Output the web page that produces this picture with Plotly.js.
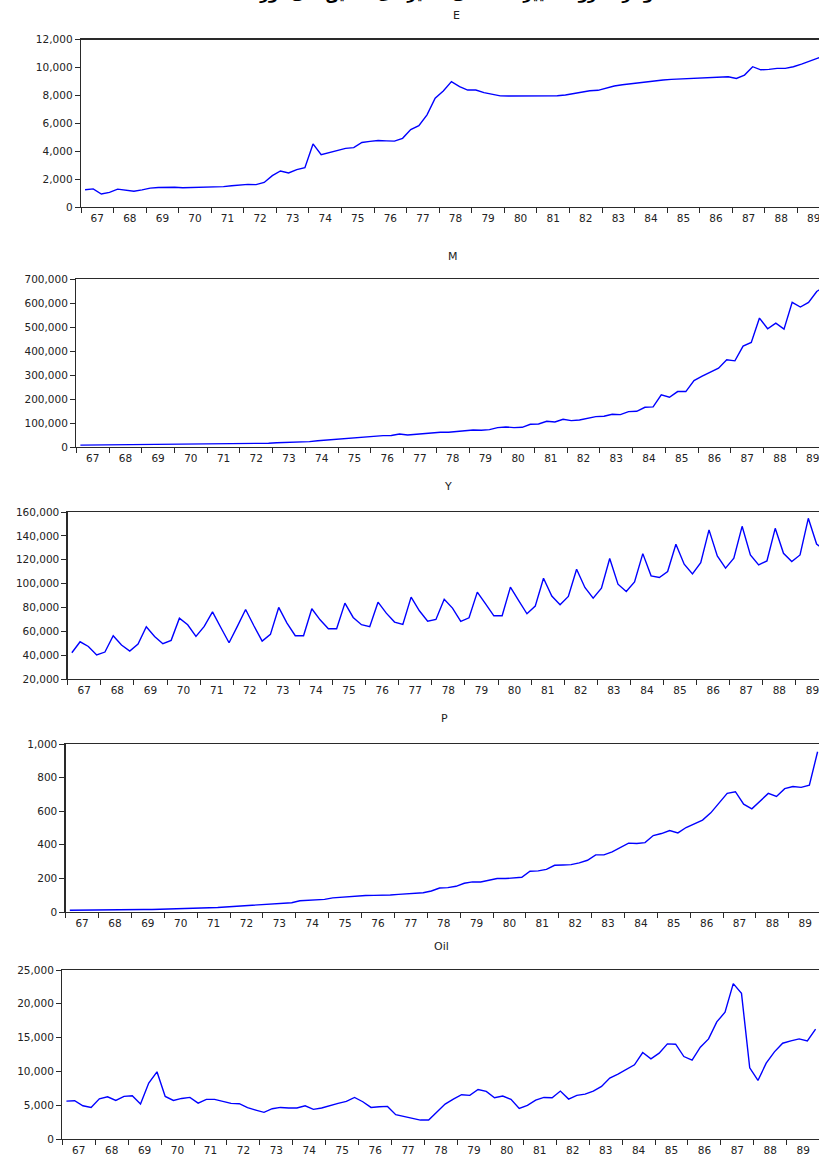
<!DOCTYPE html>
<html>
<head>
<meta charset="utf-8">
<script src="https://cdn.plot.ly/plotly-3.0.1.min.js"></script>
<style>
  html, body { margin: 0; padding: 0; overflow: hidden; background: #fff; }
  #chart { width: 850px; height: 1157px; }
</style>
</head>
<body>
<div id="chart"></div>
<script>
// Quarterly series, 1367Q1 .. 1389Q4 (92 quarters)
const firstYear = 1367;
const lastYear = 1389;
const yearLabels = ['67','68','69','70','71','72','73','74','75','76','77','78','79','80','81','82','83','84','85','86','87','88','89'];

const E = [1240,1300,930,1050,1280,1220,1130,1230,1350,1400,
  1420,1410,1380,1390,1450,1430,1450,1460,1520,1590,
  1620,1600,1760,2250,2580,2440,2680,2820,4520,3750,
  3900,4080,4200,4250,4620,4700,4760,4740,4720,4920,
  5550,5830,6600,7790,8310,8980,8620,8380,8380,8190,
  8070,7960,7950,7950,7980,7950,7950,7950,7970,8020,
  8140,8260,8330,8360,8520,8670,8760,8830,8900,9000,
  9050,9100,9140,9170,9190,9210,9240,9290,9330,9330,
  9210,9450,10050,9830,9860,9930,9930,10050,10240,10480,
  10670,10800];

const M = [8000,8300,8600,9000,9200,9300,9500,9600,9700,9800,
  9900,9800,10000,10300,10200,10100,11500,12000,12300,12600,
  14000,14500,14800,15500,17500,18000,18500,20000,22500,26000,
  29000,31000,33500,35000,38000,42000,47000,47500,48000,54000,
  50000,52900,55700,59800,61200,61200,64000,69600,71000,69600,
  72400,80700,83500,80700,82100,94600,96000,107200,104400,115500,
  109900,112700,118300,126600,128000,136400,135000,147500,148900,165600,
  167000,217100,207400,231000,231000,276900,295000,313100,328400,363200,
  359000,420300,435600,537200,492700,516300,491300,602600,583100,602600,
  648000,670000];

const Y = [42000,51200,47300,40100,42600,56300,48500,43400,49300,63800,
  55700,49600,52400,71000,65500,55700,64100,76300,63200,50400,
  64100,78300,64600,51800,57400,80000,66900,56300,56300,78900,
  69600,62100,62100,83600,71600,65500,63800,84400,75200,67700,
  65700,88600,77200,68500,69900,86900,79400,68300,71300,92800,
  83000,73000,73000,97000,85800,74700,81100,104500,89500,82200,
  89200,112000,96700,87800,96100,121000,99500,93400,101400,125100,
  106500,105100,110100,133000,116200,108100,117600,145000,123200,112900,
  121200,148000,124000,115700,119000,146300,125400,118500,124000,154700,
  133200,128000];

const P = [10,11,11,11,12,12,13,13,14,15,
  15,16,18,20,19,19,22,25,27,30,
  35,38,40,43,47,50,51,55,67,71,
  71,75,84,88,89,92,98,99,99,101,
  105,107,109,115,125,143,145,153,171,179,
  179,187,199,199,201,207,243,245,254,278,
  280,282,292,308,340,340,358,382,410,408,
  413,455,467,485,471,503,527,547,590,650,
  706,716,642,614,662,706,688,734,747,742,
  755,954];

const Oil = [5610,5660,4920,4670,5950,6250,5710,6300,6400,5170,
  8270,9940,6300,5710,6000,6150,5310,5860,5860,5560,
  5270,5220,4630,4280,3940,4480,4670,4580,4580,4920,
  4380,4580,4970,5270,5560,6150,5510,4670,4770,4820,
  3590,3300,3050,2800,2800,3940,5170,5900,6550,6450,
  7330,7040,6100,6350,5860,4530,4970,5760,6150,6100,
  7090,5900,6450,6640,7090,7780,9010,9600,10330,10970,
  12790,11860,12700,14070,14020,12200,11660,13580,14810,17320,
  18750,22980,21550,10530,8660,11220,12890,14170,14520,14810,
  14520,16240];

const seriesNames = ['E', 'M', 'Y', 'P', 'Oil'];
const seriesData = [E, M, Y, P, Oil];
const yRanges = [[0, 12000], [0, 700000], [20000, 160000], [0, 1000], [0, 25000]];
const yDticks = [2000, 100000, 20000, 200, 5000];

// Panel geometry in pixels on an 850 x 1157 canvas (the page clips at 819)
const W = 850, H = 1157;
const panels = [
  {l: 81,   r: 830,   t: 39.5, b: 207,  titleX: 456, titleY: 16},
  {l: 76.3, r: 829,   t: 279,  b: 447,  titleX: 453, titleY: 256},
  {l: 67.7, r: 829,   t: 512,  b: 679,  titleX: 448, titleY: 487},
  {l: 65.7, r: 821.7, t: 744,  b: 912,  titleX: 444, titleY: 718},
  {l: 62.3, r: 819.7, t: 970,  b: 1139, titleX: 441, titleY: 946}
];

// quarter midpoints on a continuous year axis
function quarterPositions(n) {
  const xs = [];
  for (let i = 0; i < n; i++) xs.push(firstYear + (i + 0.5) / 4);
  return xs;
}

const yearStarts = [];
const yearMids = [];
for (let yr = firstYear; yr <= lastYear + 1; yr++) yearStarts.push(yr);
for (let yr = firstYear; yr <= lastYear; yr++) yearMids.push(yr + 0.5);

const font = {family: 'DejaVu Sans, Arial, sans-serif', size: 10.5, color: '#222'};
const axisColor = '#2a2a2a';

const traces = [];
const layout = {
  width: W, height: H,
  margin: {l: 0, r: 0, t: 0, b: 0},
  paper_bgcolor: '#fff', plot_bgcolor: '#fff',
  showlegend: false,
  font: font,
  annotations: []
};

seriesData.forEach((vals, k) => {
  const p = panels[k];
  const n = k + 1;
  const xa = 'xaxis' + (n === 1 ? '' : n);
  const ya = 'yaxis' + (n === 1 ? '' : n);
  traces.push({
    x: quarterPositions(vals.length), y: vals,
    xaxis: 'x' + (n === 1 ? '' : n), yaxis: 'y' + (n === 1 ? '' : n),
    type: 'scatter', mode: 'lines',
    line: {color: '#0000ff', width: 1.4},
    hoverinfo: 'skip'
  });
  // year labels sit mid-year; tick marks at year boundaries come from the minor ticks
  layout[xa] = {
    domain: [p.l / W, p.r / W],
    anchor: 'y' + (n === 1 ? '' : n),
    range: [firstYear, lastYear + 1],
    tickmode: 'array', tickvals: yearMids, ticktext: yearLabels,
    ticks: 'outside', ticklen: 1, tickcolor: 'rgba(0,0,0,0)',
    minor: {tickmode: 'array', tickvals: yearStarts, ticks: 'outside', ticklen: 5,
            tickwidth: 1, tickcolor: axisColor, showgrid: false},
    showgrid: false, zeroline: false,
    showline: true, mirror: true, linecolor: axisColor, linewidth: 1.3,
    tickfont: font, fixedrange: true
  };
  layout[ya] = {
    domain: [1 - p.b / H, 1 - p.t / H],
    anchor: 'x' + (n === 1 ? '' : n),
    range: yRanges[k], tickmode: 'linear', tick0: yRanges[k][0], dtick: yDticks[k],
    tickformat: ',d',
    ticks: 'outside', ticklen: 5, tickwidth: 1, tickcolor: axisColor,
    showgrid: false, zeroline: false,
    showline: true, mirror: true, linecolor: axisColor, linewidth: 1.3,
    tickfont: font, fixedrange: true
  };
  layout.annotations.push({
    text: seriesNames[k], showarrow: false,
    xref: 'paper', yref: 'paper',
    x: p.titleX / W, y: 1 - p.titleY / H,
    xanchor: 'center', yanchor: 'middle',
    font: {family: font.family, size: 11, color: '#222'}
  });
});

// Figure heading (sits at the top edge of the page)
layout.annotations.push({
  text: '<b>نمودار ۱- روند تغییرات فصلی متغیرهای تحقیق طی دوره ۱۳۶۷ تا ۱۳۸۹</b>',
  showarrow: false, xref: 'paper', yref: 'paper',
  x: 410 / W, y: 1 + 6 / H, xanchor: 'center', yanchor: 'middle',
  font: {family: 'DejaVu Sans, sans-serif', size: 15, color: '#000'}
});

Plotly.newPlot('chart', traces, layout, {staticPlot: true, displayModeBar: false});
</script>
</body>
</html>
